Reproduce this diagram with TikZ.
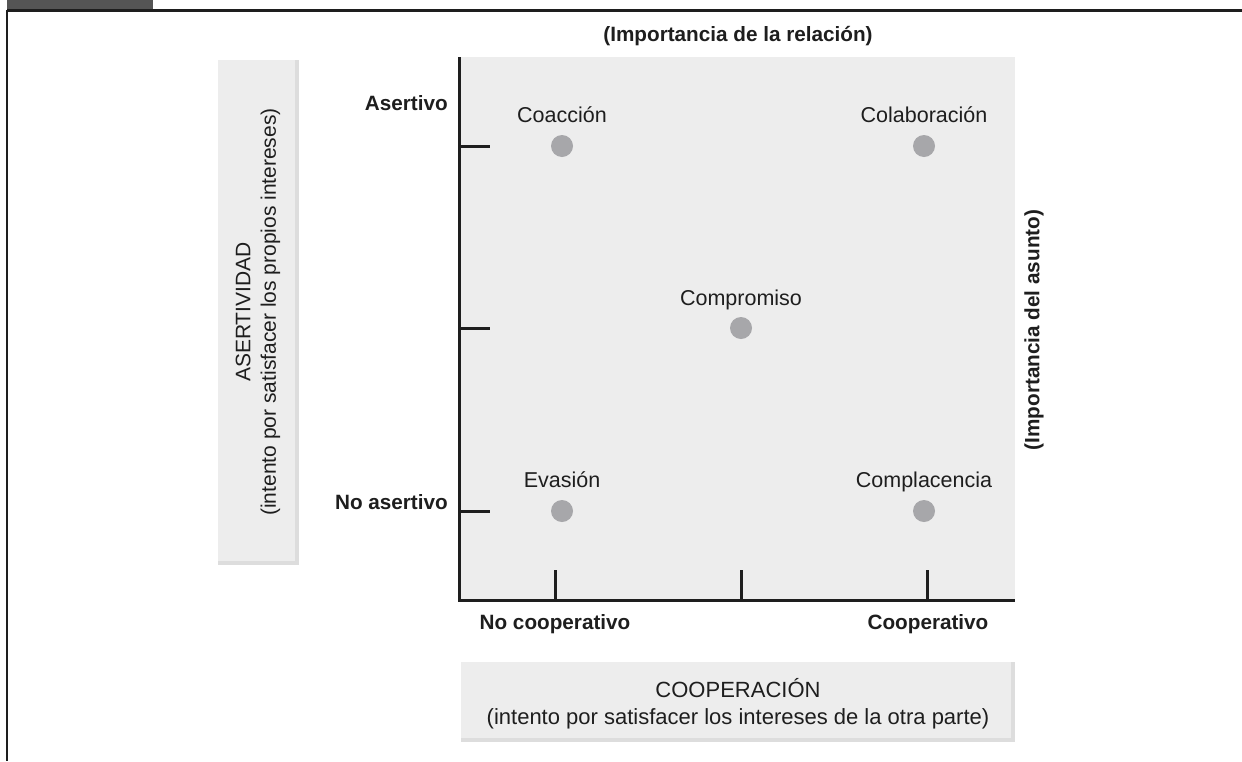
\documentclass[tikz,border=0pt]{standalone}
\usepackage{fontspec}
\setmainfont{Liberation Sans}
\definecolor{panel}{HTML}{EDEDED}
\definecolor{edgecol}{HTML}{DDDDDD}
\definecolor{dotgray}{HTML}{A7A7AA}
\definecolor{ink}{HTML}{1E1E1E}
\definecolor{tabgray}{HTML}{555555}
\tikzset{
  lbl/.style={font=\fontsize{21.5}{25}\selectfont, text=ink, inner sep=0pt},
  blbl/.style={font=\bfseries\fontsize{20.7}{25}\selectfont, text=ink, inner sep=0pt},
  dotnode/.style={circle, fill=dotgray, minimum size=22pt, inner sep=0pt},
  axisline/.style={line width=3pt, draw=ink},
  boxtext/.style={font=\fontsize{21}{25.5}\selectfont, text=ink, align=center, inner sep=0pt}
}
\begin{document}
\begin{tikzpicture}[x=1pt,y=-1pt]
\useasboundingbox (0,0) rectangle (1242,761);
\fill[white] (0,0) rectangle (1242,761);
% frame
\fill[tabgray] (7,0) rectangle (153,10);
\draw[line width=3pt, draw=ink] (7,10) -- (1242,10);
\draw[line width=2.5pt, draw=ink] (7,10) -- (7,761);
% plot panel
\fill[panel] (459,57) rectangle (1015,600);
% left box
\fill[panel] (218,60) rectangle (295,561);
\fill[edgecol] (295,60) rectangle (299,565);
\fill[edgecol] (218,561) rectangle (295,565);
% bottom box
\fill[panel] (461,662) rectangle (1011,738);
\fill[edgecol] (1011,662) rectangle (1015,742);
\fill[edgecol] (461,738) rectangle (1011,742);
% axes
\coordinate (o) at (459,600);
\coordinate (ytop) at (459,57);
\coordinate (xend) at (1015,600);
\draw[axisline] (ytop) -- (o) -- (xend);
% y ticks
\foreach \yy/\nm in {146/ya,328/yb,511/yc}{
  \coordinate (\nm0) at (459,\yy);
  \coordinate (\nm1) at (490,\yy);
  \draw[axisline] (\nm0) -- (\nm1);
}
% x ticks
\foreach \xx/\nm in {555/xa,741/xb,927/xc}{
  \coordinate (\nm0) at (\xx,600);
  \coordinate (\nm1) at (\xx,570);
  \draw[axisline] (\nm0) -- (\nm1);
}
% dots and labels
\node[dotnode] (d1) at (562,146) {};
\node[dotnode] (d2) at (924,146) {};
\node[dotnode] (d3) at (741,328) {};
\node[dotnode] (d4) at (562,511) {};
\node[dotnode] (d5) at (924,511) {};
\node[lbl, anchor=base] (l1) at (562,122) {Coacción};
\node[lbl, anchor=base] (l2) at (924,122) {Colaboración};
\node[lbl, anchor=base] (l3) at (741,305) {Compromiso};
\node[lbl, anchor=base] (l4) at (562,487) {Evasión};
\node[lbl, anchor=base] (l5) at (924,487) {Complacencia};
% axis labels
\node[blbl, anchor=base east] (as) at (448,110) {Asertivo};
\node[blbl, anchor=base east] (nas) at (448,509) {No asertivo};
\node[blbl, anchor=base] (nc) at (555,629) {No cooperativo};
\node[blbl, anchor=base] (co) at (928,629) {Cooperativo};
\node[blbl] (rel) at (738,36) {(Importancia de la relación)};
\node[blbl, rotate=90] (asu) at (1034,330) {(Importancia del asunto)};
% box texts
\node[boxtext, rotate=90] (asr) at (258,312) {ASERTIVIDAD\\(intento por satisfacer los propios intereses)};
\node[boxtext, font=\fontsize{22}{27}\selectfont] (coop) at (738,704) {COOPERACIÓN\\(intento por satisfacer los intereses de la otra parte)};
\end{tikzpicture}
\end{document}
